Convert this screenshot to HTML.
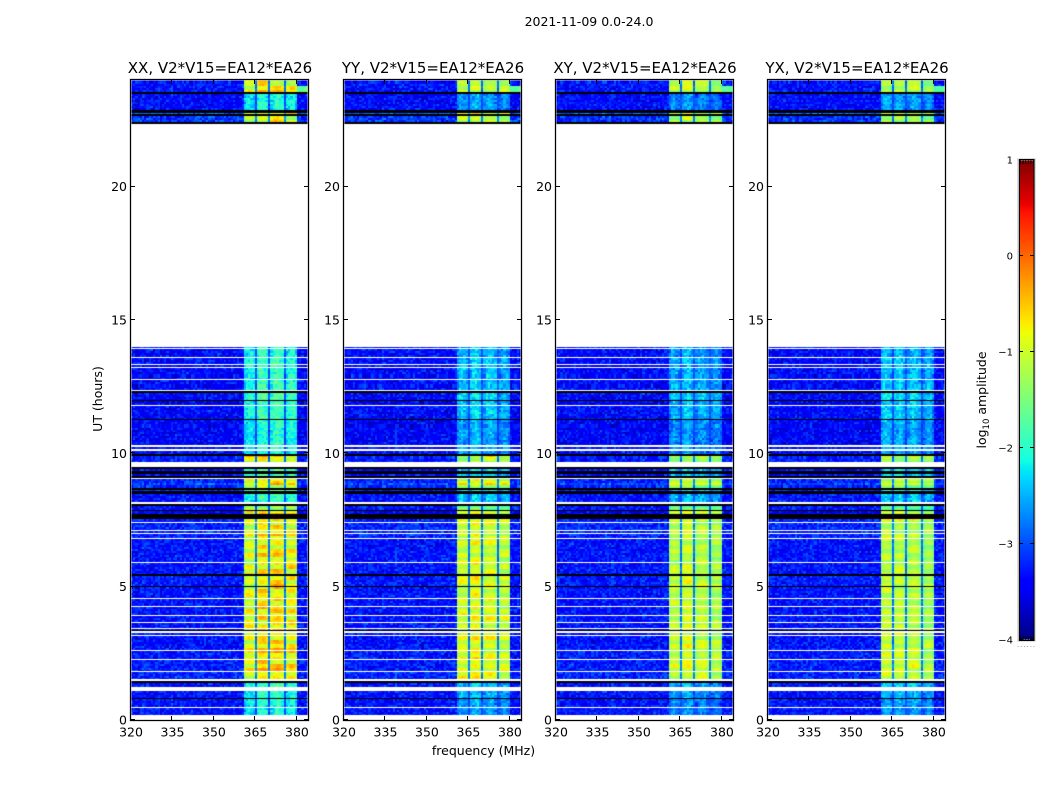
<!DOCTYPE html>
<html lang="en">
<head>
<meta charset="utf-8">
<title>2021-11-09 dynamic spectra</title>
<style>
  html, body { margin: 0; padding: 0; background: #fff; }
  #stage { position: relative; width: 1050px; height: 800px; overflow: hidden; background: #fff; }
  canvas { position: absolute; display: block; }
  svg { position: absolute; left: 0; top: 0; }
  text { font-family: "DejaVu Sans", "Liberation Sans", sans-serif; fill: #000; }
</style>
</head>
<body>
<div id="stage">
  <canvas id="heat-xx" width="177" height="640" style="left:131px;top:80px"></canvas>
  <canvas id="heat-yy" width="177" height="640" style="left:344px;top:80px"></canvas>
  <canvas id="heat-xy" width="177" height="640" style="left:556px;top:80px"></canvas>
  <canvas id="heat-yx" width="177" height="640" style="left:768px;top:80px"></canvas>
  <canvas id="cbar" width="15" height="480" style="left:1019px;top:160px"></canvas>
  <svg id="overlay" width="1050" height="800" xmlns="http://www.w3.org/2000/svg">
    <text x="589" y="26" font-size="12.5" text-anchor="middle">2021-11-09 0.0-24.0</text>
    <text x="483.5" y="755" font-size="12.5" text-anchor="middle">frequency (MHz)</text>
    <text transform="translate(102,399) rotate(-90)" font-size="12.5" text-anchor="middle">UT (hours)</text>
    <text transform="translate(986,400) rotate(-90)" font-size="12.5" text-anchor="middle">log<tspan font-size="8.5" dy="3">10</tspan><tspan dy="-3"> amplitude</tspan></text>
  </svg>
</div>
<script>
// ---- chart data ----
const panelTitles = ["XX, V2*V15=EA12*EA26", "YY, V2*V15=EA12*EA26", "XY, V2*V15=EA12*EA26", "YX, V2*V15=EA12*EA26"];
const panelIds = ["heat-xx", "heat-yy", "heat-xy", "heat-yx"];
const xTickValues = [320, 335, 350, 365, 380];
const yTickValues = [0, 5, 10, 15, 20];
const colorTickValues = [1, 0, -1, -2, -3, -4];
const colorTickLabels = ["1", "0", "\u22121", "\u22122", "\u22123", "\u22124"];

const K = -5;      // below colour range: drawn black
const W = null;    // no data: left white

// Time segments. segTop = upper edge in UT hours.
const segTop = [
  24.00,23.55,23.49,22.88,22.76,22.73,22.65,22.43,22.35,13.99,
  13.95,13.91,13.61,13.56,13.35,13.31,13.24,13.20,12.79,12.75,
  12.38,12.32,12.26,12.00,11.96,11.81,11.78,11.29,11.25,10.31,
  10.24,10.16,10.09,9.98,9.90,9.86,9.66,9.49,9.41,9.34,
  9.23,9.15,9.08,9.02,8.89,8.83,8.78,8.70,8.63,8.57,
  8.49,8.16,8.10,8.01,7.88,7.82,7.73,7.54,7.48,7.43,
  7.39,7.14,7.09,7.01,6.96,6.83,6.77,6.09,6.06,5.93,
  5.87,5.48,5.40,5.03,4.99,4.58,4.52,4.28,4.24,3.94,
  3.90,3.68,3.64,3.45,3.41,3.38,3.34,3.28,3.19,3.15,
  2.63,2.57,2.29,2.25,1.84,1.80,1.54,1.46,1.39,1.24,
  1.09,0.83,0.79,0.49,0.45,0.19
];
// Off-band background level in each segment (log10 amplitude)
const segBackground = [
  -3.32,K,-3.37,K,-2.87,K,-3.12,K,W,-3.32,
  W,-3.37,W,-3.37,W,-3.37,W,-3.37,W,-3.37,
  W,K,-3.37,K,-3.47,W,-3.37,K,-3.42,W,
  -3.37,W,-3.32,K,-3.22,-3.27,W,K,-3.37,K,
  -3.37,K,W,-3.22,-3.02,-3.22,-3.22,K,-3.22,K,
  -3.32,W,K,-3.32,K,-3.47,K,-3.22,-3.27,W,
  -3.22,W,-3.22,W,-3.22,W,-3.32,W,-3.32,W,
  -3.32,K,-3.27,K,-3.32,W,-3.32,W,-3.32,W,
  -3.32,W,-3.32,W,-3.32,K,W,-3.32,W,-3.32,
  W,-3.27,W,-3.27,W,-3.22,W,K,-3.32,W,
  -3.32,K,-3.32,W,-3.32,W
];
// In-band level in each segment (log10 amplitude)
const segBand = [
  -1.1,K,-2.3,K,-0.9,K,-1.2,K,W,-2.2,
  W,-2.2,W,-2.1,W,-2.1,W,-2.15,W,-2.1,
  W,K,-2.0,K,-2.1,W,-2.1,K,-2.25,W,
  -2.2,W,-2.3,K,-0.9,-1.3,W,K,-2.0,K,
  -2.0,K,W,-1.1,-0.8,-1.3,-1.4,K,-1.9,K,
  -2.1,W,K,-1.6,K,-1.0,K,-0.9,-1.1,W,
  -1.1,W,-1.05,W,-1.05,W,-1.1,W,-1.15,W,
  -1.05,K,-1.0,K,-1.1,W,-1.05,W,-1.05,W,
  -1.0,W,-1.05,W,-1.05,K,W,-1.05,W,-1.0,
  W,-1.0,W,-0.95,W,-1.0,W,K,-2.1,W,
  -2.2,K,-2.3,W,-2.35,W
];
// Spectral windows (MHz)
const bandLow = [360.8, 365.6, 370.4, 376.0];
const bandHigh = [364.8, 369.6, 375.2, 380.0];
// Level offset of each window, per polarisation
const offsetXX = [0.05, 0.3, 0.3, 0.15];
const offsetYY = [0.0, 0.15, 0.05, -0.1];
const offsetXY = [-0.1, 0.05, -0.1, -0.2];
const offsetYX = [-0.05, -0.05, -0.1, -0.25];
// Level drop across one window, band edge to band edge
const windowProfile = [-0.2, -0.06, 0.0, 0.02, -0.05, -0.18];
// Extra drop of the faint segments, per polarisation
const faintDrop = [0.0, 0.3, 0.3, 0.15];
// Strength of the horizontal striping, per polarisation
const stripeStrength = [1.5, 1.1, 0.9, 0.9];
// Hand-estimated amplitude residuals: a short lookup standing in for the cell noise
const residuals = [
  0.12,-0.21,0.31,-0.05,0.18,-0.34,0.07,0.26,-0.15,-0.02,
  0.22,-0.28,0.36,0.03,-0.19,0.14,-0.38,0.09,0.28,-0.11,
  -0.25,0.19,0.05,-0.31,0.33,-0.08,0.16,-0.22,0.01,0.25,
  -0.36,0.11,-0.14,0.29,-0.03,0.21,-0.27,0.34,-0.17,0.06,
  -0.09,0.24,-0.33,0.15,0.02,-0.24,0.38,-0.12,0.08,-0.29,
  0.17,-0.06,0.3,-0.2,0.04,0.27,-0.35,0.13,-0.1,0.2,-0.16
];
// Horizontal striping seen in the bright windows
const bandStripes = [
  0.15,-0.1,0.3,0.05,-0.15,0.25,0.0,0.35,-0.05,0.1,
  -0.2,0.2,0.3,-0.1,0.05,-0.15,0.28,0.12,-0.08,0.18,
  0.34,-0.12,0.02,0.22,-0.18,0.1,0.26,-0.06,0.14
];
// Short-lived interference spur above the top windows
const spurFreqLow = [380.0];
const spurHourHigh = [23.8];
const spurHourLow = [23.6];
const spurLevel = [-1.7];

// ---- axis functions ----
const panelLeft = [131, 344, 556, 768];
const plotWidth = 177, plotTop = 80, plotHeight = 640;
const freqMin = 320, freqMax = 384, cellFreq = 0.8, cellHours = 0.075;
const xScale = f => (f - freqMin) / (freqMax - freqMin) * plotWidth;
const yScale = h => (24 - h) / 24 * plotHeight;
const cbarTop = 160, cbarHeight = 480;
const cbarScale = v => (1 - v) / 5 * cbarHeight;

function ramp(t, pts) {
  for (let i = 1; i < pts.length; i++) {
    if (t <= pts[i][0]) {
      const a = pts[i - 1], b = pts[i];
      return a[1] + (b[1] - a[1]) * (t - a[0]) / (b[0] - a[0]);
    }
  }
  return pts[pts.length - 1][1];
}
function jet(v) {
  if (v < -4.5) return "#000";
  const t = Math.max(0, Math.min(1, (v + 4) / 5));
  const r = ramp(t, [[0,0],[0.35,0],[0.66,1],[0.89,1],[1,0.5]]);
  const g = ramp(t, [[0,0],[0.125,0],[0.375,1],[0.64,1],[0.91,0],[1,0]]);
  const b = ramp(t, [[0,0.5],[0.11,1],[0.34,1],[0.65,0],[1,0]]);
  return "rgb(" + Math.round(r * 255) + "," + Math.round(g * 255) + "," + Math.round(b * 255) + ")";
}

// ---- heatmaps ----
const polOffsets = [offsetXX, offsetYY, offsetXY, offsetYX];
function bandIndex(f) {
  for (let b = 0; b < bandLow.length; b++) if (f >= bandLow[b] && f <= bandHigh[b]) return b;
  return -1;
}
function cellValue(pol, s, col, row, f, h) {
  const bg = segBackground[s], band = segBand[s];
  if (bg === K) return K;
  const n = residuals.length;
  const a = residuals[(col * col * 3 + row * row * 7 + col * row * 5 + col * 17 + row * 23 + pol * 11) % n];
  const c = residuals[(col * col * 5 + row * row * 11 + col * row * 3 + col * 29 + row * 13 + pol * 19) % n];
  const r1 = (a + c) * 0.65;
  const strong = band > -1.7;
  const b = bandIndex(f);
  if (b >= 0) {
    const pos = Math.min(windowProfile.length - 1, Math.floor((f - bandLow[b]) / (bandHigh[b] - bandLow[b]) * windowProfile.length));
    const shape = windowProfile[pos];
    const base = band + polOffsets[pol][b] + shape - (strong ? 0 : faintDrop[pol]);
    const stripe = strong ? bandStripes[(Math.floor(row / 2) + b * 5 + pol * 3) % bandStripes.length] * stripeStrength[pol] : 0;
    return base + stripe + r1 * (strong ? 0.3 : 0.85);
  }
  if (f >= bandLow[0] && f <= bandHigh[3]) {
    return bg + (band - bg) * (strong ? 0.22 : 0.32) + r1 * 0.4;   // gaps between windows
  }
  if (f >= spurFreqLow[0] && h <= spurHourHigh[0] && h >= spurHourLow[0]) {
    return spurLevel[0] + r1 * 0.5;
  }
  return bg + r1;
}
panelIds.forEach((id, pol) => {
  const ctx = document.getElementById(id).getContext("2d");
  for (let s = 0; s < segTop.length; s++) {
    if (segBackground[s] === W) continue;
    const top = segTop[s], bottom = s + 1 < segTop.length ? segTop[s + 1] : 0;
    for (let h = top; h > bottom + 1e-6; h -= cellHours) {
      const lo = Math.max(h - cellHours, bottom);
      const y0 = Math.round(yScale(h)), y1 = Math.round(yScale(lo));
      if (y1 <= y0) continue;
      const row = Math.floor((24 - h) / cellHours);
      for (let c = 0; c * cellFreq < freqMax - freqMin; c++) {
        const f = freqMin + (c + 0.5) * cellFreq;
        const x0 = Math.round(xScale(freqMin + c * cellFreq));
        const x1 = Math.round(xScale(freqMin + (c + 1) * cellFreq));
        ctx.fillStyle = jet(cellValue(pol, s, c, row, f, h));
        ctx.fillRect(x0, y0, x1 - x0, y1 - y0);
      }
    }
  }
});

// ---- colorbar ----
(function () {
  const ctx = document.getElementById("cbar").getContext("2d");
  for (let y = 0; y < cbarHeight; y++) {
    ctx.fillStyle = jet(1 - (y + 0.5) / cbarHeight * 5);
    ctx.fillRect(0, y, 15, 1);
  }
})();

// ---- axes ----
const NS = "http://www.w3.org/2000/svg";
const overlay = document.getElementById("overlay");
function shape(tag, attrs) {
  const n = document.createElementNS(NS, tag);
  for (const k in attrs) n.setAttribute(k, attrs[k]);
  overlay.appendChild(n);
  return n;
}
panelLeft.forEach((x0, p) => {
  const key = ["xx", "yy", "xy", "yx"][p];
  const shadow = shape("rect", { x: x0 - 0.5, y: plotTop - 0.5, width: plotWidth + 1, height: plotHeight + 1, fill: "none", stroke: "#bbb", "stroke-width": 2 });
  
  
  const frame = shape("rect", { x: x0 - 0.5, y: plotTop - 0.5, width: plotWidth + 1, height: plotHeight + 1, fill: "none", stroke: "#000", "stroke-width": 1 });
  
  
  const title = shape("text", { x: x0 + 89, y: 73, "font-size": 15, "text-anchor": "middle" });
  title.textContent = panelTitles[p];
  
  

  xTickValues.forEach(v => {
    const x = Math.round(x0 + xScale(v)) - 0.5;
    const t1 = shape("line", { x1: x, x2: x, y1: plotTop + plotHeight, y2: plotTop + plotHeight - 4, stroke: "#000", "stroke-width": 1 });
    
    
    const t2 = shape("line", { x1: x, x2: x, y1: plotTop, y2: plotTop + 4, stroke: "#000", "stroke-width": 1 });
    
    
    const lab = shape("text", { x: x0 + xScale(v), y: 736.5, "font-size": 12.5, "text-anchor": "middle" });
    lab.textContent = String(v);
    
    
  });
  yTickValues.forEach(v => {
    const y = Math.round(plotTop + yScale(v)) - 0.5;
    const t1 = shape("line", { x1: x0, x2: x0 + 4, y1: y, y2: y, stroke: "#000", "stroke-width": 1 });
    
    
    const t2 = shape("line", { x1: x0 + plotWidth, x2: x0 + plotWidth - 4, y1: y, y2: y, stroke: "#000", "stroke-width": 1 });
    
    
    const lab = shape("text", { x: x0 - 4, y: plotTop + yScale(v) + 4.5, "font-size": 12.5, "text-anchor": "end" });
    lab.textContent = String(v);
    
    
  });
});

// colorbar frame and ticks
const cbShadow = shape("rect", { x: 1018.5, y: cbarTop - 0.5, width: 16, height: cbarHeight + 1, fill: "none", stroke: "#bbb", "stroke-width": 2 });


const cbFrame = shape("rect", { x: 1019.5, y: cbarTop - 0.5, width: 14.5, height: cbarHeight + 1, fill: "none", stroke: "#000", "stroke-width": 1 });


colorTickValues.forEach((v, i) => {
  const y = Math.round(cbarTop + cbarScale(v)) - 0.5;
  const t1 = shape("line", { x1: 1019, x2: 1023, y1: y, y2: y, stroke: "#000", "stroke-width": 1 });
  
  
  const t2 = shape("line", { x1: 1034, x2: 1030, y1: y, y2: y, stroke: "#000", "stroke-width": 1 });
  
  
  const lab = shape("text", { x: 1013, y: cbarTop + cbarScale(v) + 3.5, "font-size": 10, "text-anchor": "end" });
  lab.textContent = colorTickLabels[i];
  
  
});
for (let i = 0; i < 6; i++) {
  const x = 1020.5 + i * 2.6;
  const topTick = shape("line", { x1: x, x2: x, y1: cbarTop, y2: cbarTop + 4, stroke: "#000", "stroke-width": 0.8 });
  
  
  const botTick = shape("line", { x1: x, x2: x, y1: cbarTop + cbarHeight, y2: cbarTop + cbarHeight - 4, stroke: "#000", "stroke-width": 0.8 });
  
  
  const dot = shape("rect", { x: 1017.5 + i * 3.2, y: 646, width: 1, height: 1, fill: "#aaa" });
  
  
}
</script>
</body>
</html>
